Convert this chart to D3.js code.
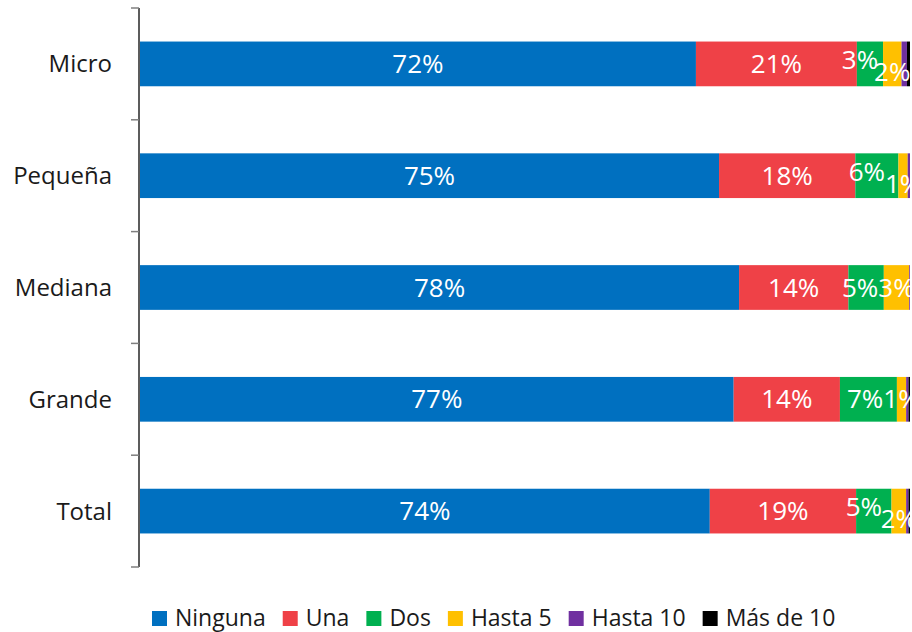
<!DOCTYPE html>
<html>
<head>
<meta charset="utf-8">
<script src="https://cdn.jsdelivr.net/npm/d3@7"></script>
<style>
  body { margin: 0; background: #fff; }
  text { font-family: "Open Sans", sans-serif; }
</style>
</head>
<body>
<svg id="chart"></svg>
<script>
// categories and series
const CATEGORIES = ["Micro", "Pequeña", "Mediana", "Grande", "Total"];
const SERIES = ["Ninguna", "Una", "Dos", "Hasta 5", "Hasta 10", "Más de 10"];

// share of firms (%) per series, in category order
const NINGUNA = [72.2, 75.2, 77.8, 77.1, 74.0];
const UNA = [20.9, 17.7, 14.2, 13.8, 19.0];
const DOS = [3.4, 5.6, 4.6, 7.4, 4.6];
const HASTA_5 = [2.4, 1.2, 3.3, 1.2, 1.9];
const HASTA_10 = [0.7, 0.3, 0.1, 0.3, 0.3];
const MAS_DE_10 = [0.4, 0.0, 0.0, 0.2, 0.2];

const COLORS = ["#0070C0", "#EF4147", "#00B050", "#FFC000", "#7030A0", "#000000"];

const WIDTH = 912;
const HEIGHT = 632;
const LEFT = 140;
const RIGHT = 910;
const TOP = 8;
const BOTTOM = 567;

window.onload = function () {
    drawChart();
};

function drawChart() {
    let table = CATEGORIES.map(function (c, i) {
        return {
            cat: c,
            "Ninguna": NINGUNA[i],
            "Una": UNA[i],
            "Dos": DOS[i],
            "Hasta 5": HASTA_5[i],
            "Hasta 10": HASTA_10[i],
            "Más de 10": MAS_DE_10[i]
        };
    });
    let stacked = d3.stack().keys(SERIES)(table);

    let svg = d3.select("#chart")
        .attr("width", WIDTH)
        .attr("height", HEIGHT);

    let x = d3.scaleLinear().domain([0, 100]).range([LEFT, RIGHT]);
    let y = d3.scaleBand()
        .domain(CATEGORIES)
        .range([TOP, BOTTOM])
        .paddingInner(0.6)
        .paddingOuter(0.3);
    let color = d3.scaleOrdinal().domain(SERIES).range(COLORS);

    svg.append("defs").append("clipPath")
        .attr("id", "plot-clip")
        .append("rect")
        .attr("x", LEFT).attr("y", 0)
        .attr("width", RIGHT - LEFT).attr("height", HEIGHT);

    // bars
    let groups = svg.append("g").selectAll("g")
        .data(stacked)
        .enter()
        .append("g")
        .style("fill", function (d) { return color(d.key); });

    groups.selectAll("rect")
        .data(function (d) { return d; })
        .enter()
        .append("rect")
        .attr("x", function (d) { return x(d[0]); })
        .attr("y", function (d) { return y(d.data.cat); })
        .attr("width", function (d) { return Math.max(0, x(d[1]) - x(d[0])); })
        .attr("height", y.bandwidth());

    // value labels (only segments of 1% or more), nudged when neighbours collide
    let labelLayer = svg.append("g").attr("clip-path", "url(#plot-clip)");
    let measure = svg.append("text").attr("font-size", "26px");
    CATEGORIES.forEach(function (cat, ci) {
        let labels = [];
        stacked.forEach(function (s) {
            let seg = s[ci];
            let v = seg[1] - seg[0];
            if (v < 1) return;
            let txt = Math.round(v) + "%";
            measure.text(txt);
            labels.push({
                txt: txt,
                x: (x(seg[0]) + x(seg[1])) / 2,
                w: measure.node().getComputedTextLength(),
                dy: 0
            });
        });
        for (let i = 1; i < labels.length; i++) {
            let prev = labels[i - 1], cur = labels[i];
            let overlap = (prev.x + prev.w / 2) - (cur.x - cur.w / 2);
            if (overlap > 0) {
                prev.x -= Math.min(overlap, 10);
                if (overlap > 8) {
                    if (prev.dy === 0) prev.dy = -4;
                    cur.dy = 8;
                }
            }
        }
        labelLayer.selectAll(null)
            .data(labels)
            .enter()
            .append("text")
            .attr("x", function (d) { return d.x; })
            .attr("y", function (d) { return y(cat) + y.bandwidth() / 2 + d.dy; })
            .attr("dy", "0.35em")
            .attr("text-anchor", "middle")
            .attr("font-size", "26px")
            .attr("fill", "#fff")
            .text(function (d) { return d.txt; });
    });
    measure.remove();

    // category axis: line, ticks at band edges, labels at centres
    let axis = svg.append("g");
    axis.append("line")
        .attr("x1", LEFT - 1).attr("x2", LEFT - 1)
        .attr("y1", TOP).attr("y2", BOTTOM)
        .attr("stroke", "#262626")
        .attr("stroke-width", 1.5);
    axis.selectAll(".tick")
        .data(d3.range(CATEGORIES.length + 1))
        .enter()
        .append("line")
        .attr("x1", LEFT - 9).attr("x2", LEFT - 1)
        .attr("y1", function (i) { return TOP + i * y.step(); })
        .attr("y2", function (i) { return TOP + i * y.step(); })
        .attr("stroke", "#7f7f7f")
        .attr("stroke-width", 1.5);
    axis.selectAll(".cat")
        .data(CATEGORIES)
        .enter()
        .append("text")
        .attr("x", LEFT - 28)
        .attr("y", function (d) { return y(d) + y.bandwidth() / 2; })
        .attr("dy", "0.35em")
        .attr("text-anchor", "end")
        .attr("font-size", "24px")
        .attr("fill", "#1a1a1a")
        .text(function (d) { return d; });

    // legend
    let legend = svg.append("g");
    let lx = 152;
    SERIES.forEach(function (s) {
        legend.append("rect")
            .attr("x", lx).attr("y", 611)
            .attr("width", 15).attr("height", 15)
            .style("fill", color(s));
        let t = legend.append("text")
            .attr("x", lx + 23)
            .attr("y", 626)
            .attr("font-size", "23px")
            .attr("fill", "#1a1a1a")
            .text(s);
        lx += 23 + t.node().getComputedTextLength() + 17;
    });
}
</script>
</body>
</html>
